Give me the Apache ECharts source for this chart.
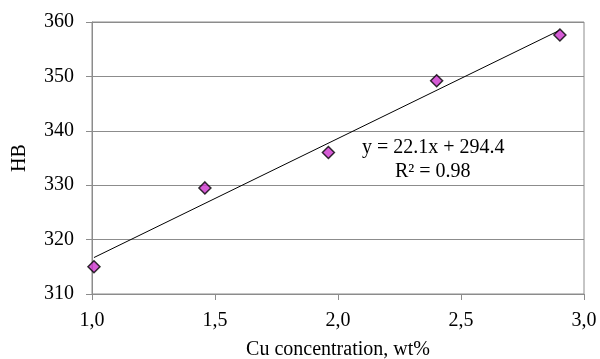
<!DOCTYPE html>
<html>
<head>
<meta charset="utf-8">
<script src="https://cdn.jsdelivr.net/npm/echarts@6/dist/echarts.min.js"></script>
<style>html,body{margin:0;padding:0;background:#fff}#c{width:600px;height:359px}</style>
</head>
<body>
<div id="c"></div>
<script>
// Data
const cuConcentration = [1.008, 1.459, 1.961, 2.401, 2.902];
const hardnessHB = [315.0, 329.5, 336.0, 349.2, 357.6];
// Linear trendline endpoints (y = 22.1x + 294.4 over the data range)
const trendX = [1.008, 2.902];
const trendY = [316.7, 358.5];
const equationLines = ['y = 22.1x + 294.4', 'R² = 0.98'];

const FONT = "'Liberation Serif', 'Times New Roman', serif";
const chart = echarts.init(document.getElementById('c'));
chart.setOption({
  animation: false,
  backgroundColor: '#fff',
  grid: { left: 92, right: 16, top: 22, bottom: 65, containLabel: false, outerBoundsMode: 'none',
          show: true, borderColor: '#8c8c8c', borderWidth: 1 },
  xAxis: {
    type: 'value', min: 1.0, max: 3.0, interval: 0.5,
    name: 'Cu concentration, wt%', nameLocation: 'middle', nameGap: 46,
    nameTextStyle: { fontFamily: FONT, fontSize: 20, color: '#000' },
    axisLine: { show: true, lineStyle: { color: '#8c8c8c', width: 1 } },
    axisTick: { show: true, length: 6, lineStyle: { color: '#8c8c8c' } },
    axisLabel: { fontFamily: FONT, fontSize: 20, color: '#000', margin: 17,
      formatter: v => v.toFixed(1).replace('.', ',') },
    splitLine: { show: false }
  },
  yAxis: {
    type: 'value', min: 310, max: 360, interval: 10,
    name: 'HB', nameLocation: 'middle', nameGap: 62,
    nameTextStyle: { fontFamily: FONT, fontSize: 20, color: '#000' },
    axisLine: { show: true, lineStyle: { color: '#8c8c8c', width: 1 } },
    axisTick: { show: true, length: 6, lineStyle: { color: '#8c8c8c' } },
    axisLabel: { fontFamily: FONT, fontSize: 20, color: '#000', margin: 18 },
    splitLine: { show: true, lineStyle: { color: '#8c8c8c', width: 1 } }
  },
  series: [
    {
      type: 'line', data: trendX.map((x, i) => [x, trendY[i]]),
      symbol: 'none', lineStyle: { color: '#000', width: 1 }, z: 2, silent: true
    },
    {
      type: 'scatter', data: cuConcentration.map((x, i) => [x, hardnessHB[i]]),
      symbol: 'diamond', symbolSize: 12,
      itemStyle: { color: '#cc33cc', borderColor: '#000', borderWidth: 1.5 }, z: 3
    }
  ],
  graphic: [
    { type: 'text', left: 362, top: 138, style: { text: equationLines[0], font: '20px ' + FONT, fill: '#000' } },
    { type: 'text', left: 395, top: 162, style: { text: equationLines[1], font: '20px ' + FONT, fill: '#000' } }
  ]
});
</script>
</body>
</html>
